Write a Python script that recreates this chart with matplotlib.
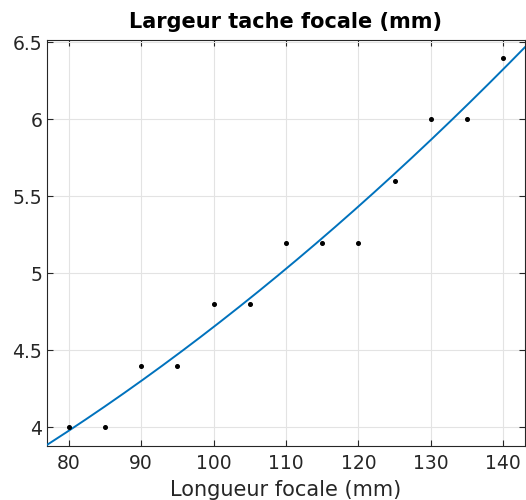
import numpy as np
import matplotlib
matplotlib.use("Agg")
import matplotlib.pyplot as plt

# mesures
focale = [80, 85, 90, 95, 100, 105, 110, 115, 120, 125, 130, 135, 140]
largeur = [4.0, 4.0, 4.4, 4.4, 4.8, 4.8, 5.2, 5.2, 5.2, 5.6, 6.0, 6.0, 6.4]
xticks = [80, 90, 100, 110, 120, 130, 140]
yticks = [4, 4.5, 5, 5.5, 6, 6.5]

# ajustement quadratique
coef = np.polyfit(focale, largeur, 2)
xf = np.linspace(77, 143, 200)
yf = np.polyval(coef, xf)

plt.rcParams['font.family'] = 'DejaVu Sans'
fig = plt.figure(figsize=(5.26, 5.0), dpi=100)
ax = fig.add_axes([0.0894, 0.108, 0.9086, 0.812])

ax.plot(xf, yf, color='#0072BD', linewidth=1.4, zorder=3)
ax.plot(focale, largeur, 'o', color='black', markersize=2.6, zorder=4)

ax.set_xlim(77, 143)
ax.set_ylim(3.879, 6.515)
ax.set_xticks(xticks)
ax.set_yticks(yticks)
ax.set_yticklabels(['4', '4.5', '5', '5.5', '6', '6.5'])
ax.grid(True, color='#e3e3e3', linewidth=0.8)
ax.set_axisbelow(True)
ax.tick_params(direction='in', top=True, right=True, length=4, width=0.8,
               labelsize=13.5, colors='#262626', labelcolor='#262626')
ax.tick_params(axis='x', pad=6)
for s in ax.spines.values():
    s.set_color('#262626')
    s.set_linewidth(0.8)

ax.set_xlabel('Longueur focale (mm)', fontsize=15, color='#262626', labelpad=5)
ax.set_title('Largeur tache focale (mm)', fontsize=15, fontweight='bold', pad=9)

fig.savefig('out.png', dpi=100)
